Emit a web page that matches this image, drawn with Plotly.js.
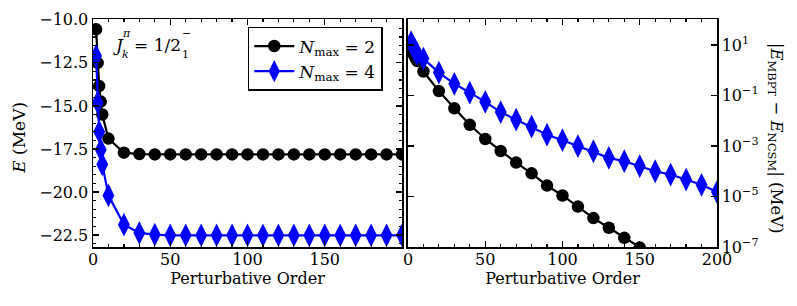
<!DOCTYPE html>
<html>
<head>
<meta charset="utf-8">
<script src="https://cdn.plot.ly/plotly-3.0.1.min.js"></script>
<style>html,body{margin:0;padding:0;background:#fff;}#chart{width:797px;height:306px;}</style>
</head>
<body>
<div id="chart"></div>
<script>
// Perturbative orders
const orders = [2,3,4,5,6,10,20,30,40,50,60,70,80,90,100,110,120,130,140,150,160,170,180,190,200];
// Left panel: energy E (MeV) by order
const energyN2 = [-10.55,-12.5,-13.85,-14.75,-15.5,-16.9,-17.72,-17.8,-17.82,-17.82,-17.82,-17.82,-17.82,-17.82,-17.82,-17.82,-17.82,-17.82,-17.82,-17.82,-17.82,-17.82,-17.82,-17.82,-17.82];
const energyN4 = [-12.1,-14.8,-16.5,-17.55,-18.4,-20.2,-21.9,-22.38,-22.48,-22.52,-22.52,-22.52,-22.52,-22.52,-22.52,-22.52,-22.52,-22.52,-22.52,-22.52,-22.52,-22.52,-22.52,-22.52,-22.52];
// Right panel: |E_MBPT - E_NCSM| (MeV)
const diffOrdersN2 = [2,3,4,5,6,10,20,30,40,50,60,70,80,90,100,110,120,130,140,150,160];
const diffN2 = [7.1,5.2,3.9,3.0,2.3,0.89,0.15,0.031,0.0069,0.0019,0.00063,0.00022,0.000083,0.000027,0.000011,0.0000040,0.0000014,0.00000058,0.00000023,0.000000095,0.00000004];
const diffOrdersN4 = [2,3,4,5,6,10,20,30,40,50,60,70,80,90,100,110,120,130,140,150,160,170,180,190,200];
const diffN4 = [13,9.5,7.1,5.5,4.5,2.9,0.81,0.29,0.13,0.056,0.022,0.011,0.0059,0.0028,0.0017,0.00099,0.00062,0.00034,0.00025,0.00016,0.0001,0.000074,0.000047,0.000029,0.000015];
// Tick labels
const leftYTicks = [-10,-12.5,-15,-17.5,-20,-22.5];
const leftYTickText = ["\u221210.0","\u221212.5","\u221215.0","\u221217.5","\u221220.0","\u221222.5"];
const rightYTicks = [10,0.1,0.001,0.00001,0.0000001];
const rightYTickText = ["10<sup>1</sup>","10<sup>\u22121</sup>","10<sup>\u22123</sup>","10<sup>\u22125</sup>","10<sup>\u22127</sup>"];
const leftXTicks = [0,50,100,150];
const rightXTicks = [0,50,100,150,200];

const FONT = "DejaVu Serif";
const black = "#000000", blue = "#0000ff";

const traces = [
  {x: orders, y: energyN2, xaxis:'x', yaxis:'y', mode:'lines+markers', name:'<i>N</i><sub>max</sub> = 2',
   line:{color:black,width:2.2}, marker:{symbol:'circle',size:12.5,color:black}, cliponaxis:true},
  {x: orders, y: energyN4, xaxis:'x', yaxis:'y', mode:'lines+markers', name:'<i>N</i><sub>max</sub> = 4',
   line:{color:blue,width:2.2}, marker:{symbol:'diamond-tall',size:17,color:blue}, cliponaxis:true},
  {x: diffOrdersN2, y: diffN2, xaxis:'x2', yaxis:'y2', mode:'lines+markers', showlegend:false,
   line:{color:black,width:2.2}, marker:{symbol:'circle',size:12.5,color:black}, cliponaxis:true},
  {x: diffOrdersN4, y: diffN4, xaxis:'x2', yaxis:'y2', mode:'lines+markers', showlegend:false,
   line:{color:blue,width:2.2}, marker:{symbol:'diamond-tall',size:17,color:blue}, cliponaxis:true}
];

const tf = (s)=>({family:FONT,size:s,color:black});

const axBase = {showline:true, mirror:'allticks', linecolor:black, linewidth:1.5, ticks:'inside',
  ticklen:6, tickwidth:1.2, tickcolor:black, showgrid:false, zeroline:false,
  tickfont:tf(16)};

const layout = {
  width:797, height:306,
  margin:{l:93,r:80,t:19,b:59},
  paper_bgcolor:'#fff', plot_bgcolor:'#fff',
  font:{family:FONT,color:black},
  showlegend:true,
  legend:{x:0.248,y:0.965,xanchor:'left',yanchor:'top',bgcolor:'#fff',bordercolor:black,borderwidth:1.5,
    font:tf(17), tracegroupgap:0, itemwidth:40},
  xaxis: Object.assign({}, axBase, {domain:[0,0.4952], range:[0,200], tickvals:leftXTicks,
    minor:{dtick:10,ticks:'inside',ticklen:3,tickcolor:black}, ticklabelstandoff:-3,
    title:{text:'Perturbative Order', font:tf(16), standoff:0}, anchor:'y'}),
  yaxis: Object.assign({}, axBase, {range:[-23.2,-9.95], tickvals:leftYTicks, ticktext:leftYTickText,
    minor:{dtick:0.5,ticks:'inside',ticklen:3,tickcolor:black}, anchor:'x'}),
  xaxis2: Object.assign({}, axBase, {domain:[0.5048,1], range:[0,200], tickvals:rightXTicks,
    minor:{dtick:10,ticks:'inside',ticklen:3,tickcolor:black}, ticklabelstandoff:-3,
    title:{text:'Perturbative Order', font:tf(16), standoff:0}, anchor:'y2'}),
  yaxis2: Object.assign({}, axBase, {type:'log', range:[-7,2.03], tickvals:rightYTicks, ticktext:rightYTickText,
    side:'right', anchor:'x2'}),
  annotations:[
    // J_k^pi = 1/2_1^- built from stacked pieces
    {xref:'paper',yref:'paper',x:0.029,y:0.885,xanchor:'left',yanchor:'middle',showarrow:false,
     text:'<i>J</i>', font:tf(17)},
    {xref:'paper',yref:'paper',x:0.0425,y:0.935,xanchor:'left',yanchor:'middle',showarrow:false,
     text:'<i>\u03c0</i>', font:tf(11)},
    {xref:'paper',yref:'paper',x:0.0425,y:0.845,xanchor:'left',yanchor:'middle',showarrow:false,
     text:'<i>k</i>', font:tf(11)},
    {xref:'paper',yref:'paper',x:0.062,y:0.885,xanchor:'left',yanchor:'middle',showarrow:false,
     text:'= 1/2', font:tf(17)},
    {xref:'paper',yref:'paper',x:0.1395,y:0.935,xanchor:'left',yanchor:'middle',showarrow:false,
     text:'\u2212', font:tf(11)},
    {xref:'paper',yref:'paper',x:0.1395,y:0.845,xanchor:'left',yanchor:'middle',showarrow:false,
     text:'1', font:tf(11)},
    {xref:'paper',yref:'paper',x:-0.119,y:0.478,xanchor:'center',yanchor:'middle',showarrow:false,textangle:-90,
     text:'<i>E</i> (MeV)', font:tf(17)},
    {xref:'paper',yref:'paper',x:1.094,y:0.476,xanchor:'center',yanchor:'middle',showarrow:false,textangle:90,
     text:'|<i>E</i><sub>MBPT</sub> \u2212 <i>E</i><sub>NCSM</sub>| (MeV)', font:tf(16.5)}
  ]
};

Plotly.newPlot('chart', traces, layout, {staticPlot:true, displayModeBar:false});
</script>
</body>
</html>
